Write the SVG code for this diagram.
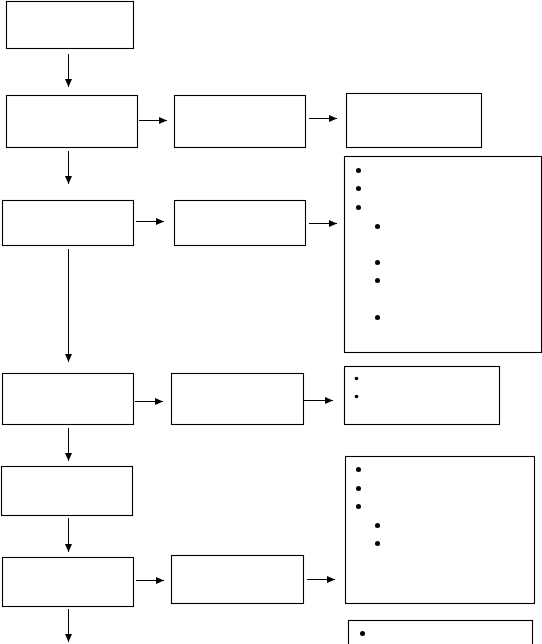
<svg xmlns="http://www.w3.org/2000/svg" width="542" height="644" viewBox="0 0 542 644">
<style>
.box{fill:#fff;stroke:#000;stroke-width:1.1}
.c{stroke:#000;stroke-width:1;fill:none}
.b{fill:#000}
</style>
<defs>
<marker id="ah" markerUnits="userSpaceOnUse" markerWidth="10" markerHeight="10" refX="8" refY="4" orient="auto">
<path d="M0,0.5 L8,4 L0,7.5 z" fill="#000"/>
</marker>
</defs>
<rect width="542" height="644" fill="#fff"/>
<g id="n1"><rect class="box" x="6.5" y="1.5" width="127" height="47"/></g>
<g id="n2"><rect class="box" x="6.5" y="95.5" width="131" height="52"/></g>
<g id="n3"><rect class="box" x="174.5" y="95.5" width="131" height="52"/></g>
<g id="n4"><rect class="box" x="346.5" y="93.5" width="135" height="54"/></g>
<g id="n5"><rect class="box" x="344.5" y="156.5" width="197" height="196"/>
<circle class="b" cx="358.5" cy="170.5" r="2.5"/>
<circle class="b" cx="358.5" cy="188.5" r="2.5"/>
<circle class="b" cx="358.5" cy="207.5" r="2.5"/>
<circle class="b" cx="377.5" cy="226.5" r="2.5"/>
<circle class="b" cx="377.5" cy="262.5" r="2.5"/>
<circle class="b" cx="377.5" cy="280.5" r="2.5"/>
<circle class="b" cx="377.5" cy="317.5" r="2.5"/>
</g>
<g id="n6"><rect class="box" x="2.5" y="200.5" width="131" height="45"/></g>
<g id="n7"><rect class="box" x="174.5" y="200.5" width="131" height="45"/></g>
<g id="n8"><rect class="box" x="2.5" y="373.5" width="131" height="51"/></g>
<g id="n9"><rect class="box" x="171.5" y="373.5" width="132" height="51"/></g>
<g id="n10"><rect class="box" x="344.5" y="366.5" width="155" height="58"/>
<circle class="b" cx="356.5" cy="378.5" r="1.8"/>
<circle class="b" cx="356.5" cy="396.5" r="1.8"/>
</g>
<g id="n11"><rect class="box" x="345.5" y="456.5" width="189" height="147"/>
<circle class="b" cx="358.5" cy="469.5" r="2.5"/>
<circle class="b" cx="358.5" cy="488.5" r="2.5"/>
<circle class="b" cx="358.5" cy="506.5" r="2.5"/>
<circle class="b" cx="377.5" cy="525.5" r="2.5"/>
<circle class="b" cx="377.5" cy="543.5" r="2.5"/>
</g>
<g id="n12"><rect class="box" x="1.5" y="466.5" width="131" height="49"/></g>
<g id="n13"><rect class="box" x="2.5" y="557.5" width="131" height="49"/></g>
<g id="n14"><rect class="box" x="171.5" y="555.5" width="132" height="48"/></g>
<g id="n15"><rect class="box" x="348.5" y="620.5" width="184" height="40"/>
<circle class="b" cx="362.5" cy="633.5" r="2.5"/>
</g>
<g id="connectors">
<line class="c" x1="68.5" y1="54" x2="68.5" y2="87" marker-end="url(#ah)"/>
<line class="c" x1="139" y1="120.5" x2="167" y2="120.5" marker-end="url(#ah)"/>
<line class="c" x1="309" y1="118.5" x2="337" y2="118.5" marker-end="url(#ah)"/>
<line class="c" x1="68.5" y1="151" x2="68.5" y2="184" marker-end="url(#ah)"/>
<line class="c" x1="136" y1="221.5" x2="164" y2="221.5" marker-end="url(#ah)"/>
<line class="c" x1="309" y1="223.5" x2="337" y2="223.5" marker-end="url(#ah)"/>
<line class="c" x1="68.5" y1="249" x2="68.5" y2="362" marker-end="url(#ah)"/>
<line class="c" x1="135" y1="401.5" x2="163" y2="401.5" marker-end="url(#ah)"/>
<line class="c" x1="304" y1="400.5" x2="333" y2="400.5" marker-end="url(#ah)"/>
<line class="c" x1="68.5" y1="428" x2="68.5" y2="461" marker-end="url(#ah)"/>
<line class="c" x1="68.5" y1="518" x2="68.5" y2="552" marker-end="url(#ah)"/>
<line class="c" x1="136" y1="580.5" x2="164" y2="580.5" marker-end="url(#ah)"/>
<line class="c" x1="307" y1="579.5" x2="335" y2="579.5" marker-end="url(#ah)"/>
<line class="c" x1="68.5" y1="609" x2="68.5" y2="642" marker-end="url(#ah)"/>
</g>
</svg>
